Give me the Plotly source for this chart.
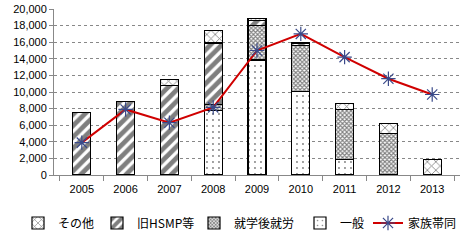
import plotly.graph_objects as go

years = ["2005", "2006", "2007", "2008", "2009", "2010", "2011", "2012", "2013"]
ippan = [0, 0, 0, 7750, 13850, 10100, 1900, 0, 0]
shugaku = [0, 0, 0, 750, 4200, 5500, 6000, 5000, 0]
hsmp = [7500, 8900, 10800, 7400, 600, 200, 0, 0, 0]
sonota = [0, 0, 700, 1500, 250, 200, 750, 1200, 1900]
kazoku = [3900, 7900, 6300, 8150, 15000, 17000, 14200, 11600, 9700]

L, R, T, B, W, H = 54, 7, 9, 67, 467, 242
pw, ph = W - L - R, H - T - B


def lx(px):
    return (px - L) / pw


ly = (H - B - 223) / ph

outline = dict(color="black", width=1.2)
fig = go.Figure()
fig.add_trace(go.Bar(x=years, y=ippan, name="一般", legend="legend4", width=0.41,
                     marker=dict(color="white", line=outline,
                                 pattern=dict(shape=".", fgcolor="black", bgcolor="white", size=6, solidity=0.08, fillmode="overlay"))))
fig.add_trace(go.Bar(x=years, y=shugaku, name="就学後就労", legend="legend3", width=0.41,
                     marker=dict(color="white", line=outline,
                                 pattern=dict(shape="x", fgcolor="black", bgcolor="white", size=3, solidity=0.6, fillmode="overlay"))))
fig.add_trace(go.Bar(x=years, y=hsmp, name="旧HSMP等", legend="legend2", width=0.41,
                     marker=dict(color="white", line=outline,
                                 pattern=dict(shape="/", fgcolor="black", bgcolor="white", size=8, solidity=0.6, fillmode="overlay"))))
fig.add_trace(go.Bar(x=years, y=sonota, name="その他", legend="legend", width=0.41,
                     marker=dict(color="white", line=outline,
                                 pattern=dict(shape="x", fgcolor="black", bgcolor="white", size=6, solidity=0.25, fillmode="overlay"))))
fig.add_trace(go.Scatter(x=years, y=kazoku, name="家族帯同", legend="legend5", mode="lines+markers",
                         line=dict(color="#d00000", width=2),
                         marker=dict(symbol="asterisk-open", size=12, color="#3a4a8a",
                                     line=dict(color="#3a4a8a", width=1.2))))

leg_common = dict(orientation="h", yanchor="middle", y=ly, xanchor="left",
                  font=dict(family="Noto Sans CJK JP", size=12, color="black"),
                  itemwidth=30, bgcolor="rgba(0,0,0,0)")
fig.update_layout(
    width=W, height=H, barmode="stack",
    margin=dict(l=L, r=R, t=T, b=B, autoexpand=False),
    paper_bgcolor="white", plot_bgcolor="white",
    font=dict(family="Liberation Sans, Noto Sans CJK JP", size=11, color="black"),
    legend=dict(leg_common, x=lx(18)),
    legend2=dict(leg_common, x=lx(97)),
    legend3=dict(leg_common, x=lx(194)),
    legend4=dict(leg_common, x=lx(300)),
    legend5=dict(leg_common, x=lx(368)),
    showlegend=True,
)
fig.update_xaxes(showline=True, linecolor="#888", linewidth=1, ticks="outside", tickson="boundaries",
                 ticklen=5, tickcolor="#888", showgrid=False, ticklabelstandoff=4)
fig.update_yaxes(range=[0, 20000], dtick=2000, tickformat=",d", showline=True, linecolor="#888",
                 linewidth=1, ticks="outside", ticklen=4, tickcolor="#888",
                 showgrid=True, gridcolor="#888", griddash="dot", gridwidth=1, zeroline=False)

fig.write_html("out.html")
